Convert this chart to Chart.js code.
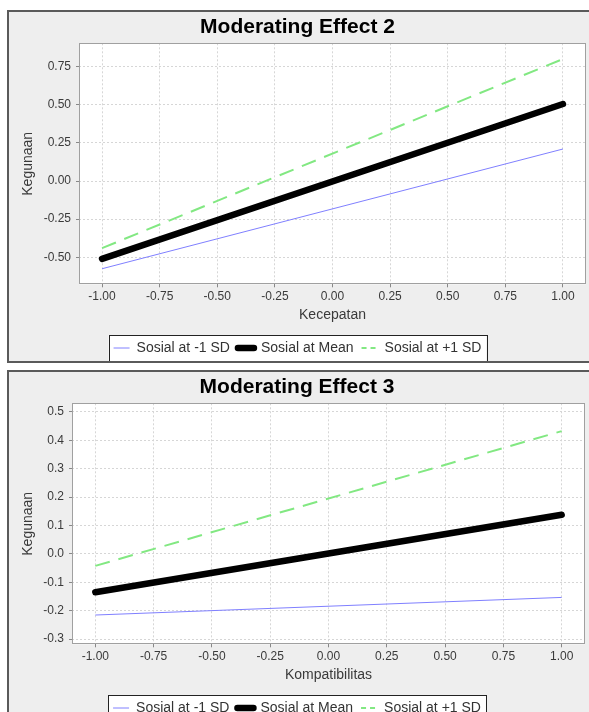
<!DOCTYPE html>
<html>
<head>
<meta charset="utf-8">
<script src="https://cdn.jsdelivr.net/npm/chart.js@4"></script>
<style>
    html, body { margin: 0; padding: 0; background: #fff; overflow: hidden; }
    .panel {
        position: absolute; left: 7px; width: 588px; height: 353px;
        border: 2px solid #5a5a5a; box-sizing: border-box;
        background: #eeeeee; overflow: hidden;
    }
    .inner { position: relative; width: 584px; height: 353px; }
</style>
</head>
<body>
<div class="panel" style="top:10px"><div class="inner"><canvas id="effect2Chart"></canvas></div></div>
<div class="panel" style="top:370px"><div class="inner"><canvas id="effect3Chart"></canvas></div></div>
<script>
// Data
const xValues = [-1, 1];
const xTicks = [-1, -0.75, -0.5, -0.25, 0, 0.25, 0.5, 0.75, 1];
const seriesLabels = ['Sosial at -1 SD', 'Sosial at Mean', 'Sosial at +1 SD'];

// Moderating Effect 2 (Kecepatan)
const kecLow = [-0.575, 0.21];
const kecMean = [-0.51, 0.505];
const kecHigh = [-0.44, 0.80];
const kecYTicks = [-0.5, -0.25, 0, 0.25, 0.5, 0.75];

// Moderating Effect 3 (Kompatibilitas)
const komLow = [-0.215, -0.153];
const komMean = [-0.135, 0.138];
const komHigh = [-0.042, 0.432];
const komYTicks = [-0.3, -0.2, -0.1, 0, 0.1, 0.2, 0.3, 0.4, 0.5];

Chart.defaults.font.family = "'Liberation Sans', Arial, sans-serif";
Chart.defaults.color = '#3a3a3a';

// White plot area, grey frame, boxed legend
const framePlugin = {
    id: 'frame',
    beforeDraw(chart) {
        const { ctx, chartArea: a } = chart;
        ctx.save();
        ctx.fillStyle = '#ffffff';
        ctx.fillRect(a.left, a.top, a.width, a.height);

        const boxes = chart.legend.legendHitBoxes;
        if (boxes && boxes.length) {
            const left = Math.min(...boxes.map(b => b.left)) - 5;
            const right = Math.max(...boxes.map(b => b.left + b.width)) + 5;
            const mid = boxes[0].top + boxes[0].height / 2;
            ctx.fillRect(left, mid - 13, right - left, 26);
            ctx.strokeStyle = '#222';
            ctx.lineWidth = 1;
            ctx.strokeRect(Math.round(left) + 0.5, Math.round(mid - 13) + 0.5, Math.round(right - left), 26);
        }
        ctx.restore();
    },
    beforeDatasetsDraw(chart) {
        const { ctx, chartArea: a } = chart;
        ctx.save();
        ctx.strokeStyle = '#a0a0a0';
        ctx.lineWidth = 1;
        ctx.strokeRect(Math.round(a.left) + 0.5, Math.round(a.top) + 0.5, Math.round(a.width) - 1, Math.round(a.height) - 1);
        ctx.restore();
    }
};

function axisGrid() {
    return {
        color: '#d6d6d6',
        borderDash: [2, 2],
        tickLength: 3,
        tickColor: '#888',
        tickBorderDash: []
    };
}

function buildChart(canvasId, title, xTitle, yTicks, yMin, yMax, yDecimals, yWidth, padRight, low, mean, high) {
    const ctx = document.getElementById(canvasId);
    return new Chart(ctx, {
        type: 'line',
        data: {
            datasets: [
                {
                    label: seriesLabels[0],
                    data: xValues.map((x, i) => ({ x: x, y: low[i] })),
                    borderColor: 'rgb(128, 128, 255)',
                    borderWidth: 1
                },
                {
                    label: seriesLabels[1],
                    data: xValues.map((x, i) => ({ x: x, y: mean[i] })),
                    borderColor: '#000',
                    borderWidth: 6.5,
                    borderCapStyle: 'round'
                },
                {
                    label: seriesLabels[2],
                    data: xValues.map((x, i) => ({ x: x, y: high[i] })),
                    borderColor: 'rgb(130, 232, 130)',
                    borderWidth: 2,
                    borderDash: [15, 9]
                }
            ]
        },
        options: {
            responsive: true,
            maintainAspectRatio: false,
            animation: false,
            elements: { point: { radius: 0 }, line: { tension: 0 } },
            layout: { padding: { left: 0, right: padRight, top: 0, bottom: 0 } },
            plugins: {
                title: {
                    display: true,
                    text: title,
                    color: '#000',
                    font: { size: 21, weight: 'bold' },
                    padding: { top: 2.5, bottom: 3.6 }
                },
                legend: {
                    position: 'bottom',
                    labels: {
                        usePointStyle: true,
                        pointStyle: 'line',
                        pointStyleWidth: 16,
                        padding: 8,
                        color: '#333',
                        font: { size: 14 },
                        generateLabels: function (chart) {
                            const items = Chart.defaults.plugins.legend.labels.generateLabels(chart);
                            items[1].lineCap = 'round';
                            items[2].lineDash = [5, 4];
                            return items;
                        }
                    }
                },
                tooltip: { enabled: false }
            },
            scales: {
                x: {
                    type: 'linear',
                    min: -1.1,
                    max: 1.1,
                    afterBuildTicks: s => { s.ticks = xTicks.map(v => ({ value: v })); },
                    afterFit: s => { s.height = 48.7; },
                    ticks: {
                        callback: v => v.toFixed(2),
                        padding: 2,
                        maxRotation: 0,
                        font: { size: 12 }
                    },
                    grid: axisGrid(),
                    border: { display: false, dash: [2, 2] },
                    title: {
                        display: true,
                        text: xTitle,
                        font: { size: 14 },
                        padding: { top: 0, bottom: 9.6 }
                    }
                },
                y: {
                    min: yMin,
                    max: yMax,
                    afterBuildTicks: s => { s.ticks = yTicks.map(v => ({ value: v })); },
                    afterFit: s => { s.width = yWidth; },
                    ticks: {
                        callback: v => v.toFixed(yDecimals),
                        padding: 5,
                        font: { size: 12 }
                    },
                    grid: axisGrid(),
                    border: { display: false, dash: [2, 2] },
                    title: {
                        display: true,
                        text: 'Kegunaan',
                        font: { size: 14 },
                        padding: { top: 10.6, bottom: 0 }
                    }
                }
            }
        },
        plugins: [framePlugin]
    });
}

buildChart('effect2Chart', 'Moderating Effect 2', 'Kecepatan', kecYTicks, -0.677, 0.903, 2, 70, 7, kecLow, kecMean, kecHigh);
buildChart('effect3Chart', 'Moderating Effect 3', 'Kompatibilitas', komYTicks, -0.318, 0.53, 1, 63, 8, komLow, komMean, komHigh);
</script>
</body>
</html>
